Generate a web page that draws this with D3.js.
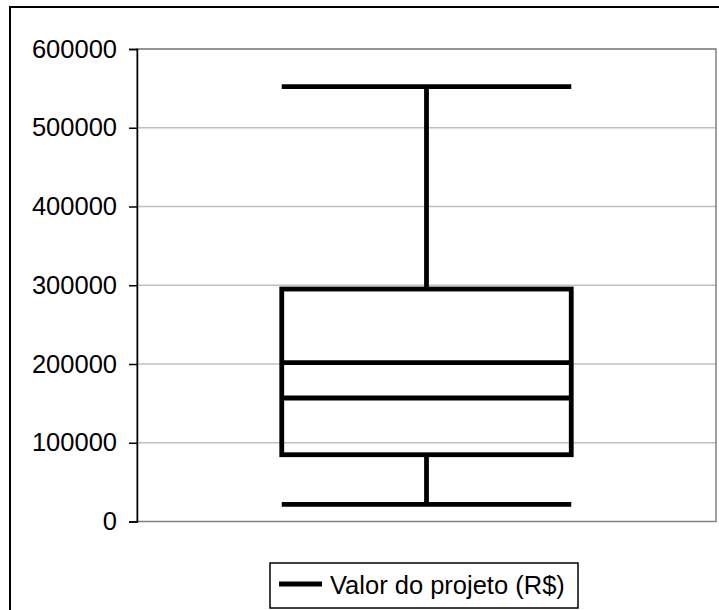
<!DOCTYPE html>
<html>
<head>
<meta charset="utf-8">
<script src="https://cdn.jsdelivr.net/npm/d3@7"></script>
<style>
  html, body { margin: 0; padding: 0; background: #fff; overflow: hidden; }
  svg { display: block; }
  text { font-family: Arial, "Liberation Sans", sans-serif; fill: #000; }
</style>
</head>
<body>
<script>
// ---- data ----
const categories = ["Valor do projeto (R$)"];
const minValues    = [21800];
const q1Values     = [84800];
const medianValues = [156800];
const meanValues   = [201700];
const q3Values     = [295200];
const maxValues    = [552100];
const yTicks = [0, 100000, 200000, 300000, 400000, 500000, 600000];
const legendLabel = "Valor do projeto (R$)";

const W = 719, H = 610;
const svg = d3.select("body").append("svg").attr("width", W).attr("height", H);

// outer chart border (extends beyond the view on right/bottom)
svg.append("rect").attr("x", 10).attr("y", 7).attr("width", 760).attr("height", 660)
  .attr("fill", "#fff").attr("stroke", "#000").attr("stroke-width", 2);

const plot = { left: 137, right: 716, top: 49, bottom: 521.5 };

const y = d3.scaleLinear().domain([0, 600000]).range([plot.bottom, plot.top]);
const x = d3.scaleBand().domain(categories).range([plot.left, plot.right]).paddingInner(0).paddingOuter(0.5);

// gridlines
svg.append("g").selectAll("line").data(yTicks.filter(d => d > 0)).join("line")
  .attr("x1", plot.left).attr("x2", plot.right)
  .attr("y1", d => y(d)).attr("y2", d => y(d))
  .attr("stroke", "#c0c0c0").attr("stroke-width", 1.5);

// plot area border
svg.append("rect").attr("x", plot.left).attr("y", plot.top)
  .attr("width", plot.right - plot.left).attr("height", plot.bottom - plot.top)
  .attr("fill", "none").attr("stroke", "#808080").attr("stroke-width", 1.5);

// y axis
const axis = svg.append("g").attr("transform", `translate(${plot.left},0)`)
  .call(d3.axisLeft(y).tickValues(yTicks).tickFormat(d3.format("d")).tickSize(8).tickPadding(12));
axis.select(".domain").attr("stroke", "#000").attr("stroke-width", 1.5);
axis.selectAll(".tick line").attr("stroke", "#000").attr("stroke-width", 1.5);
axis.selectAll(".tick text").attr("font-size", 25.5).attr("font-family", "Arial, 'Liberation Sans', sans-serif");

// box plot
const sw = 4.8;
const g = svg.append("g");
categories.forEach((c, i) => {
  const x0 = x(c), x1 = x(c) + x.bandwidth(), cx = x(c) + x.bandwidth() / 2;
  // whiskers
  g.append("line").attr("x1", cx).attr("x2", cx).attr("y1", y(maxValues[i])).attr("y2", y(q3Values[i]))
    .attr("stroke", "#000").attr("stroke-width", sw);
  g.append("line").attr("x1", cx).attr("x2", cx).attr("y1", y(q1Values[i])).attr("y2", y(minValues[i]))
    .attr("stroke", "#000").attr("stroke-width", sw);
  // caps
  [maxValues[i], minValues[i]].forEach(v => {
    g.append("line").attr("x1", x0).attr("x2", x1).attr("y1", y(v)).attr("y2", y(v))
      .attr("stroke", "#000").attr("stroke-width", sw);
  });
  // box
  g.append("rect").attr("x", x0).attr("y", y(q3Values[i]))
    .attr("width", x1 - x0).attr("height", y(q1Values[i]) - y(q3Values[i]))
    .attr("fill", "none").attr("stroke", "#000").attr("stroke-width", sw);
  [meanValues[i], medianValues[i]].forEach(v => {
    g.append("line").attr("x1", x0).attr("x2", x1).attr("y1", y(v)).attr("y2", y(v))
      .attr("stroke", "#000").attr("stroke-width", sw);
  });
});

// legend
const lg = svg.append("g");
lg.append("rect").attr("x", 270).attr("y", 563).attr("width", 308).attr("height", 45)
  .attr("fill", "#fff").attr("stroke", "#000").attr("stroke-width", 1.5);
lg.append("line").attr("x1", 279).attr("x2", 322).attr("y1", 584).attr("y2", 584)
  .attr("stroke", "#000").attr("stroke-width", 5);
lg.append("text").attr("x", 330).attr("y", 594).attr("font-size", 25.5).text(legendLabel);
</script>
</body>
</html>
